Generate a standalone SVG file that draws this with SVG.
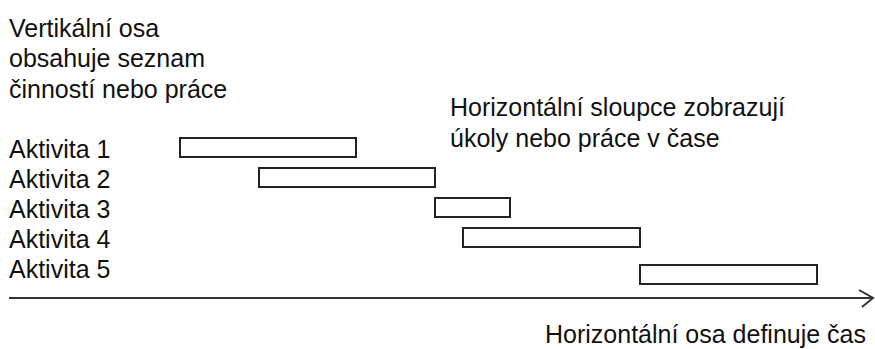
<svg xmlns="http://www.w3.org/2000/svg" width="875" height="349" viewBox="0 0 875 349">
<style>
text{font-family:"Liberation Sans",Arial,sans-serif;font-size:25px;fill:#111}
.bar{fill:#fff;stroke:#222;stroke-width:2}
.axis{stroke:#333;stroke-width:2;fill:none}
</style>
<rect width="875" height="349" fill="#fff"/>
<g id="label-vertical">
<text x="9" y="37">Vertikální osa</text>
<text x="9" y="67">obsahuje seznam</text>
<text x="9" y="98">činností nebo práce</text>
</g>
<g id="label-bars">
<text x="450" y="116">Horizontální sloupce zobrazují</text>
<text x="450" y="147">úkoly nebo práce v čase</text>
</g>
<g id="activities">
<text x="9" y="158">Aktivita 1</text>
<text x="9" y="188">Aktivita 2</text>
<text x="9" y="218">Aktivita 3</text>
<text x="9" y="248">Aktivita 4</text>
<text x="9" y="278">Aktivita 5</text>
</g>
<g id="bar1"><rect class="bar" x="180" y="138" width="176" height="19"/></g>
<g id="bar2"><rect class="bar" x="259" y="168" width="176" height="19"/></g>
<g id="bar3"><rect class="bar" x="435" y="198" width="75" height="19"/></g>
<g id="bar4"><rect class="bar" x="463" y="228" width="177" height="19"/></g>
<g id="bar5"><rect class="bar" x="640" y="265" width="177" height="19"/></g>
<g id="connectors">
<line class="axis" x1="9" y1="298" x2="873" y2="298"/>
<polyline class="axis" points="859,290 873,298 862,307"/>
</g>
<g id="label-horizontal">
<text x="545" y="343">Horizontální osa definuje čas</text>
</g>
</svg>
